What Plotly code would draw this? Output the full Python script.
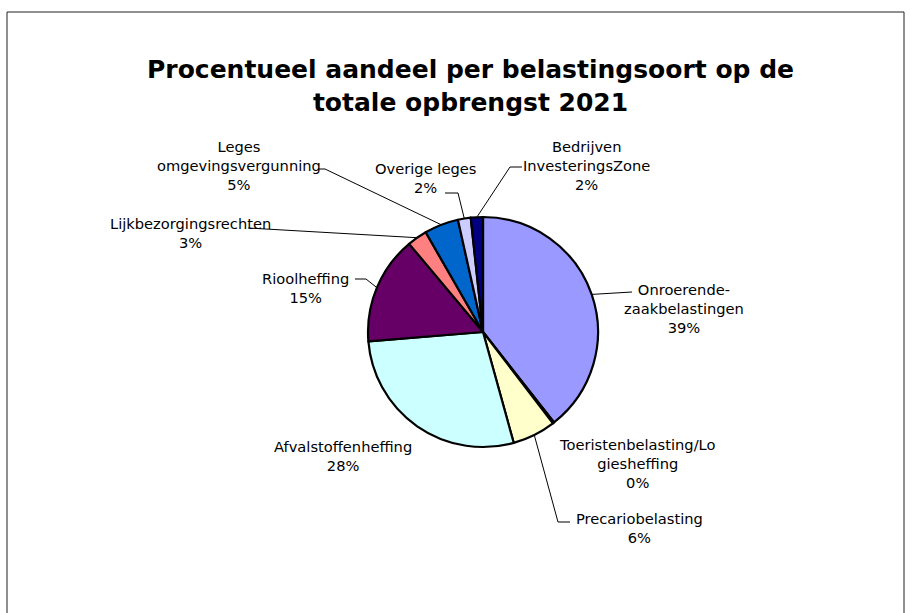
import math
import plotly.graph_objects as go

# ---------------- data ----------------
categories = [
    "Onroerende-zaakbelastingen",
    "Toeristenbelasting/Logiesheffing",
    "Precariobelasting",
    "Afvalstoffenheffing",
    "Rioolheffing",
    "Lijkbezorgingsrechten",
    "Leges omgevingsvergunning",
    "Overige leges",
    "Bedrijven InvesteringsZone",
]
label_lines = [
    "Onroerende-<br>zaakbelastingen",
    "Toeristenbelasting/Lo<br>giesheffing",
    "Precariobelasting",
    "Afvalstoffenheffing",
    "Rioolheffing",
    "Lijkbezorgingsrechten",
    "Leges<br>omgevingsvergunning",
    "Overige leges",
    "Bedrijven<br>InvesteringsZone",
]
shares = [39.4, 0.2, 6.1, 28.0, 15.2, 2.8, 4.8, 1.8, 1.7]
colors = ["#9999FF", "#993366", "#FFFFCC", "#CCFFFF", "#660066",
          "#FF8080", "#0066CC", "#CCCCFF", "#000080"]
title_text = "Procentueel aandeel per belastingsoort op de<br>totale opbrengst 2021"

# ---------------- layout constants (pixels) ----------------
W, H = 912, 613
CX, CY, R = 483, 332, 115
label_pos = [(684, 308), (637, 463), (639, 528), (343, 456), (305, 288),
             (190, 233), (239, 165), (425, 178), (586, 165)]
leader_pts = [[(632, 292)], None, [(570, 522), (558, 522)], None,
              [(355, 279), (366, 279)], [(248, 228)],
              [(318, 169), (325, 169)], [(445, 193), (458, 193)],
              [(522, 167), (510, 167)]]

FONT = "DejaVu Sans, Verdana, sans-serif"


def px(x):
    return x / W


def py(y):
    return 1 - y / H


fig = go.Figure()
fig.add_trace(go.Pie(
    labels=categories, values=shares, sort=False, direction="clockwise",
    rotation=0, textinfo="none", showlegend=False,
    marker=dict(colors=colors, line=dict(color="black", width=2.2)),
    domain=dict(x=[px(CX - R), px(CX + R)], y=[py(CY + R), py(CY - R)]),
))

total = sum(shares)
annotations = []
shapes = []
cum = 0.0
for i, v in enumerate(shares):
    mid = (cum + v / 2) / total * 2 * math.pi
    cum += v
    ex = CX + R * math.sin(mid)
    ey = CY - R * math.cos(mid)
    pct = round(v / total * 100)
    lx, ly = label_pos[i]
    annotations.append(dict(
        x=px(lx), y=py(ly), xref="paper", yref="paper",
        text=f"{label_lines[i]}<br>{pct}%", showarrow=False,
        xanchor="center", yanchor="middle", align="center",
        font=dict(family=FONT, size=14.67, color="black"),
    ))
    if leader_pts[i]:
        pts = leader_pts[i] + [(ex, ey)]
        path = "M " + " L ".join(f"{px(a)},{py(b)}" for a, b in pts)
        shapes.append(dict(type="path", xref="paper", yref="paper", path=path,
                           line=dict(color="black", width=1)))

annotations.append(dict(
    x=px(470), y=py(86), xref="paper", yref="paper", text=f"<b>{title_text}</b>",
    showarrow=False, xanchor="center", yanchor="middle", align="center",
    font=dict(family=FONT, size=25, color="black"),
))

shapes.append(dict(type="rect", xref="paper", yref="paper",
                   x0=px(7), x1=px(904), y0=py(640), y1=py(12),
                   line=dict(color="#202020", width=1), fillcolor="rgba(0,0,0,0)"))

fig.update_layout(
    width=W, height=H, margin=dict(l=0, r=0, t=0, b=0),
    paper_bgcolor="white", plot_bgcolor="white",
    annotations=annotations, shapes=shapes,
)

fig.write_html("out.html", config={"displayModeBar": False},
               post_script="document.body.style.margin='0';document.body.style.overflow='hidden';")
